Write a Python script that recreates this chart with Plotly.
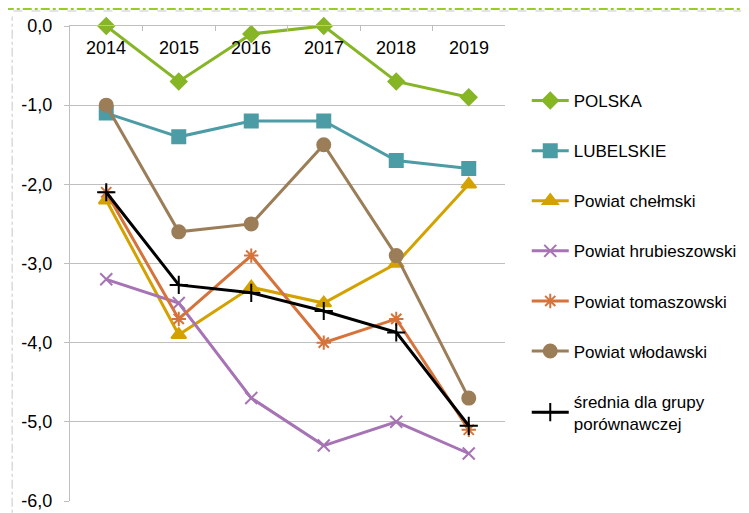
import plotly.graph_objects as go

years = ["2014", "2015", "2016", "2017", "2018", "2019"]

polska = [0.0, -0.7, -0.1, 0.0, -0.7, -0.9]
lubelskie = [-1.1, -1.4, -1.2, -1.2, -1.7, -1.8]
chelmski = [-2.2, -3.9, -3.3, -3.5, -3.0, -2.0]
hrubieszowski = [-3.2, -3.5, -4.7, -5.3, -5.0, -5.4]
tomaszowski = [-2.1, -3.7, -2.9, -4.0, -3.7, -5.1]
wlodawski = [-1.0, -2.6, -2.5, -1.5, -2.9, -4.7]
srednia = [-2.1, -3.27, -3.37, -3.6, -3.87, -5.05]

y_ticks = [0, -1, -2, -3, -4, -5, -6]
y_labels = ["0,0", "-1,0", "-2,0", "-3,0", "-4,0", "-5,0", "-6,0"]

series = [
    ("POLSKA", polska, "#86B526", "diamond", 12),
    ("LUBELSKIE", lubelskie, "#4C9CA6", "square", 13),
    ("Powiat chełmski", chelmski, "#D4A200", "triangle-up", 13),
    ("Powiat hrubieszowski", hrubieszowski, "#A673B4", "x-thin-open", 12),
    ("Powiat tomaszowski", tomaszowski, "#D5733A", "asterisk-open", 12),
    ("Powiat włodawski", wlodawski, "#9B7D58", "circle", 13),
    ("średnia dla grupy<br>porównawczej", srednia, "#000000", "cross-thin-open", 13),
]

fig = go.Figure()
for i, (name, vals, col, sym, size) in enumerate(series):
    fig.add_trace(go.Scatter(
        x=years, y=vals, name=name, mode="lines+markers",
        legendgroup=str(i),
        line=dict(color=col, width=3),
        marker=dict(symbol=sym, size=size, color=col, line=dict(color=col, width=2)),
        cliponaxis=False,
    ))

# category labels sit just under the axis line at y = 0 (axis crosses at zero);
# on a category axis the annotation x is the category index
for idx, yr in enumerate(years):
    fig.add_annotation(x=idx, y=0, xref="x", yref="y", text=yr, showarrow=False,
                       yanchor="top", yshift=-10, font=dict(size=18))

fig.update_layout(
    width=749, height=513,
    margin=dict(l=62, r=252, t=18, b=20),
    plot_bgcolor="white", paper_bgcolor="white",
    font=dict(family="Liberation Sans, Arial, sans-serif", size=18, color="#000000"),
    showlegend=True,
    legend=dict(x=1.05, y=0.88, xanchor="left", yanchor="top",
                tracegroupgap=25, itemwidth=37,
                font=dict(size=17), bgcolor="rgba(0,0,0,0)"),
    xaxis=dict(
        type="category", side="top", showticklabels=False,
        range=[-0.5, 5.5], tickson="boundaries", automargin=False,
        ticks="inside", ticklen=5, tickcolor="#BFBFBF",
        showline=True, linecolor="#BFBFBF", linewidth=1,
        showgrid=False, zeroline=False,
    ),
    yaxis=dict(
        range=[-6, 0], tickvals=y_ticks, ticktext=y_labels, automargin=False,
        ticklabelstandoff=8,
        showline=True, linecolor="#BFBFBF", linewidth=1,
        ticks="outside", ticklen=5, tickcolor="#BFBFBF",
        showgrid=True, gridcolor="#BFBFBF", gridwidth=1,
        zeroline=False,
    ),
    shapes=[
        # decorative frame lines from the source slide
        dict(type="line", xref="paper", yref="paper", x0=-0.15, x1=1.6,
             y0=1.0358, y1=1.0358, line=dict(color="#9BCB2B", width=2, dash="dashdot")),
        dict(type="line", xref="paper", yref="paper", x0=-0.13, x1=1.6,
             y0=1.0316, y1=1.0316, line=dict(color="#C8C8C8", width=1, dash="dash")),
        dict(type="line", xref="paper", yref="paper", x0=-0.133, x1=-0.133,
             y0=-0.05, y1=1.02, line=dict(color="#C8C8C8", width=1, dash="dashdot")),
    ],
)

fig.write_html("out.html")
